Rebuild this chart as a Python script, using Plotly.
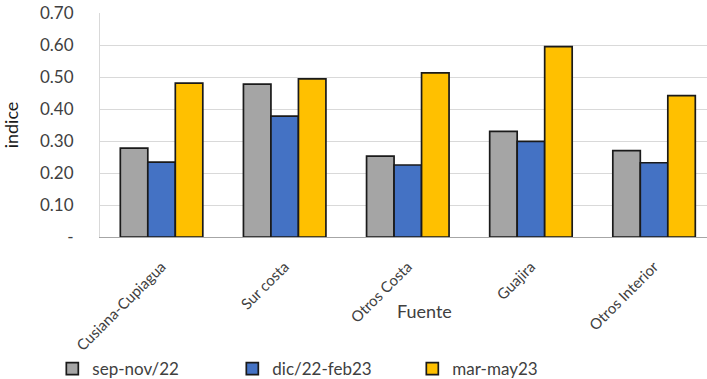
import plotly.graph_objects as go

# Fuentes de gas y el índice por periodo
fuentes = ["Cusiana-Cupiagua", "Sur costa", "Otros Costa", "Guajira", "Otros Interior"]
periodos = ["sep-nov/22", "dic/22-feb23", "mar-may23"]
sep_nov_22 = [0.278, 0.478, 0.253, 0.330, 0.270]
dic22_feb23 = [0.234, 0.378, 0.225, 0.299, 0.232]
mar_may23 = [0.481, 0.494, 0.513, 0.595, 0.442]
y_ticks = [0, 0.1, 0.2, 0.3, 0.4, 0.5, 0.6, 0.7]
y_tick_text = ["-", "0.10", "0.20", "0.30", "0.40", "0.50", "0.60", "0.70"]

colores = ["#A5A5A5", "#4472C4", "#FFC000"]
series = [sep_nov_22, dic22_feb23, mar_may23]

FONT = "Lato, 'Open Sans', sans-serif"
TXT = "#404040"

fig = go.Figure()
for nombre, valores, color in zip(periodos, series, colores):
    fig.add_trace(go.Bar(
        x=fuentes, y=valores, name=nombre,
        marker=dict(color=color, line=dict(color="#1a1a1a", width=1.7)),
    ))

fig.update_layout(
    width=707, height=379,
    margin=dict(l=100, r=0, t=13, b=142, autoexpand=False),
    paper_bgcolor="white", plot_bgcolor="white",
    barmode="group", bargap=0.33, bargroupgap=0,
    font=dict(family=FONT, color=TXT),
    showlegend=True,
    legend=dict(
        orientation="h", xref="container", yref="container",
        x=0.074, xanchor="left", y=0.026, yanchor="middle",
        font=dict(size=17, color=TXT, family=FONT),
        entrywidth=135, entrywidthmode="pixels",
        itemwidth=30, bgcolor="rgba(0,0,0,0)",
    ),
    xaxis=dict(
        range=[-0.5, 4.43], tickangle=-45,
        tickfont=dict(size=15, color=TXT, family=FONT),
        showgrid=False, showline=True, linecolor="#A6A6A6", linewidth=1.2,
        ticks="", ticklabelstandoff=14,
    ),
    yaxis=dict(
        range=[0, 0.7], tickvals=y_ticks, ticktext=y_tick_text,
        tickfont=dict(size=17, color=TXT, family=FONT),
        showgrid=True, gridcolor="#D9D9D9", gridwidth=1,
        showline=True, linecolor="#D9D9D9", zeroline=False,
        ticks="", ticklabelstandoff=22,
        title=dict(text="indice", font=dict(size=18, color="#1a1a1a", family=FONT), standoff=18),
    ),
    annotations=[dict(
        text="Fuente", xref="paper", yref="paper", x=0.535, y=-0.33,
        xanchor="center", yanchor="middle", showarrow=False,
        font=dict(size=18, color=TXT, family=FONT),
    )],
)

fig.write_html("out.html")
